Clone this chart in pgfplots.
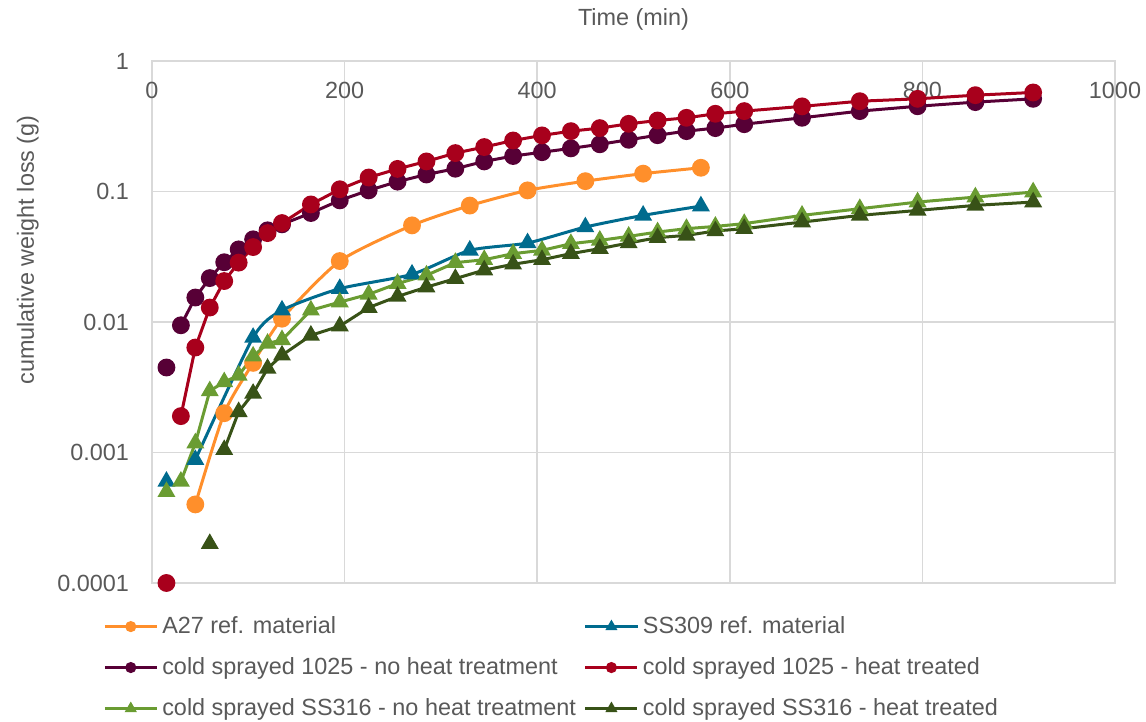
\documentclass[border=0pt]{standalone}
\usepackage{fontspec}
\setmainfont{Liberation Sans}
\usepackage{pgfplots}
\pgfplotsset{compat=1.18}
\definecolor{txtgray}{HTML}{595959}
\definecolor{gridgray}{HTML}{D9D9D9}
\definecolor{cora}{HTML}{FF8F2B}
\definecolor{cblue}{HTML}{006B8E}
\definecolor{cpurp}{HTML}{570036}
\definecolor{cred}{HTML}{A8001C}
\definecolor{clgreen}{HTML}{6A9C32}
\definecolor{cdgreen}{HTML}{385217}
\pgfplotsset{
  wl/.style={line width=1.5pt, mark size=3.7pt, mark options={solid}},
}
\begin{document}
\begin{tikzpicture}
\begin{axis}[
  name=ax,
  scale only axis,
  width=481.5pt, height=261pt,
  xmin=0, xmax=1000,
  ymode=log, ymin=1e-4, ymax=1,
  xtick={0,200,400,600,800,1000},
  xticklabels={0,200,400,600,800,1000},
  ytick={1e-4,1e-3,1e-2,1e-1,1},
  yticklabels={0.0001,0.001,0.01,0.1,1},
  minor ytick={}, yminorgrids=false,
  major tick length=0pt, minor tick length=0pt,
  tick style={draw=none},
  xmajorgrids, ymajorgrids,
  grid style={gridgray, line width=0.8pt},
  axis line style={gridgray, line width=0.8pt},
  xticklabel pos=upper,
  tick label style={font=\fontsize{11.7}{14}\selectfont, text=txtgray},
  xticklabel style={anchor=north, yshift=-7pt},
  yticklabel style={xshift=-8pt},
  title={Time (min)},
  title style={font=\fontsize{11.7}{14}\selectfont, text=txtgray, at={(0.5,1)}, anchor=base, yshift=11.5pt},
  ylabel={cumulative weight loss (g)},
  ylabel style={font=\fontsize{11.7}{14}\selectfont, text=txtgray, at={(axis description cs:-0.129,0.638)}, anchor=center},
  unbounded coords=jump,
  clip=false,
  legend columns=2,
  legend cell align=left,
  legend style={draw=none, fill=none, inner sep=0pt,
    at={(axis description cs:-0.051,-0.056)}, anchor=north west,
    font=\fontsize{11.7}{14}\selectfont, text=txtgray,
    row sep=6.5pt,
    /tikz/every odd column/.append style={column sep=0pt},
    /tikz/every even column/.append style={column sep=2pt}},
  legend image code/.code={\draw[mark repeat=2, mark phase=2, mark size=2pt]
    plot coordinates {(0pt,0pt) (13pt,0pt) (26pt,0pt)};},
]
% A27 ref. material
\addplot[wl, cora, mark=*, smooth, tension=0.4] table {
x y
45 0.0004
75 0.002
105 0.00486
135 0.0106
195 0.0293
270 0.055
330 0.078
390 0.102
450 0.12
510 0.137
570 0.152
};
% SS309 ref. material
\addplot[wl, cblue, mark=triangle*, smooth, tension=0.4] table {
x y
15 0.0006
20 nan
45 0.00088
105 0.0076
135 0.0123
195 0.018
270 0.0232
330 0.0354
390 0.0403
450 0.0534
510 0.0656
570 0.0773
};
% cold sprayed 1025 - no heat treatment
\addplot[wl, cpurp, mark=*] table {
x y
15 0.00448
20 nan
30 0.00944
45 0.0154
60 0.0217
75 0.0287
90 0.036
105 0.043
120 0.0504
135 0.056
165 0.0684
195 0.0855
225 0.102
255 0.119
285 0.135
315 0.1495
345 0.17
375 0.187
405 0.2
435 0.214
465 0.23
495 0.249
525 0.27
555 0.29
585 0.306
615 0.328
675 0.367
735 0.413
795 0.45
855 0.484
915 0.513
};
% cold sprayed 1025 - heat treated
\addplot[wl, cred, mark=*] table {
x y
15 0.0001
20 nan
30 0.0019
45 0.00637
60 0.0129
75 0.0206
90 0.0285
105 0.0375
120 0.048
135 0.0573
165 0.0796
195 0.104
225 0.128
255 0.149
285 0.17
315 0.197
345 0.219
375 0.246
405 0.269
435 0.29
465 0.306
495 0.33
525 0.35
555 0.367
585 0.394
615 0.413
675 0.449
735 0.492
795 0.513
855 0.547
915 0.574
};
% cold sprayed SS316 - no heat treatment
\addplot[wl, clgreen, mark=triangle*] table {
x y
15 0.0005
20 nan
30 0.0006
45 0.00118
60 0.00296
75 0.00347
90 0.0039
105 0.00546
120 0.00684
135 0.0073
165 0.0123
195 0.0142
225 0.0163
255 0.0197
285 0.0228
315 0.0285
345 0.030
375 0.0334
405 0.0354
435 0.0398
465 0.0422
495 0.0453
525 0.0489
555 0.0519
585 0.054
615 0.0567
675 0.0656
735 0.0738
795 0.083
855 0.0906
915 0.099
};
% cold sprayed SS316 - heat treated
\addplot[wl, cdgreen, mark=triangle*] table {
x y
60 0.0002
65 nan
75 0.00105
90 0.00205
105 0.00283
120 0.0044
135 0.00556
165 0.0079
195 0.0093
225 0.0129
255 0.0157
285 0.0185
315 0.0215
345 0.025
375 0.0277
405 0.030
435 0.0334
465 0.0365
495 0.0403
525 0.0443
555 0.0461
585 0.0498
615 0.0519
675 0.0583
735 0.0656
795 0.0716
855 0.0783
915 0.083
};
\legend{A27 ref. material, SS309 ref. material,
  cold sprayed 1025 - no heat treatment, cold sprayed 1025 - heat treated,
  cold sprayed SS316 - no heat treatment, cold sprayed SS316 - heat treated}
\end{axis}
\pgfresetboundingbox
\path[use as bounding box] ([shift={(-76pt,-69.5pt)}]ax.south west) rectangle ([shift={(15.5pt,30.5pt)}]ax.north east);
\end{tikzpicture}
\end{document}
